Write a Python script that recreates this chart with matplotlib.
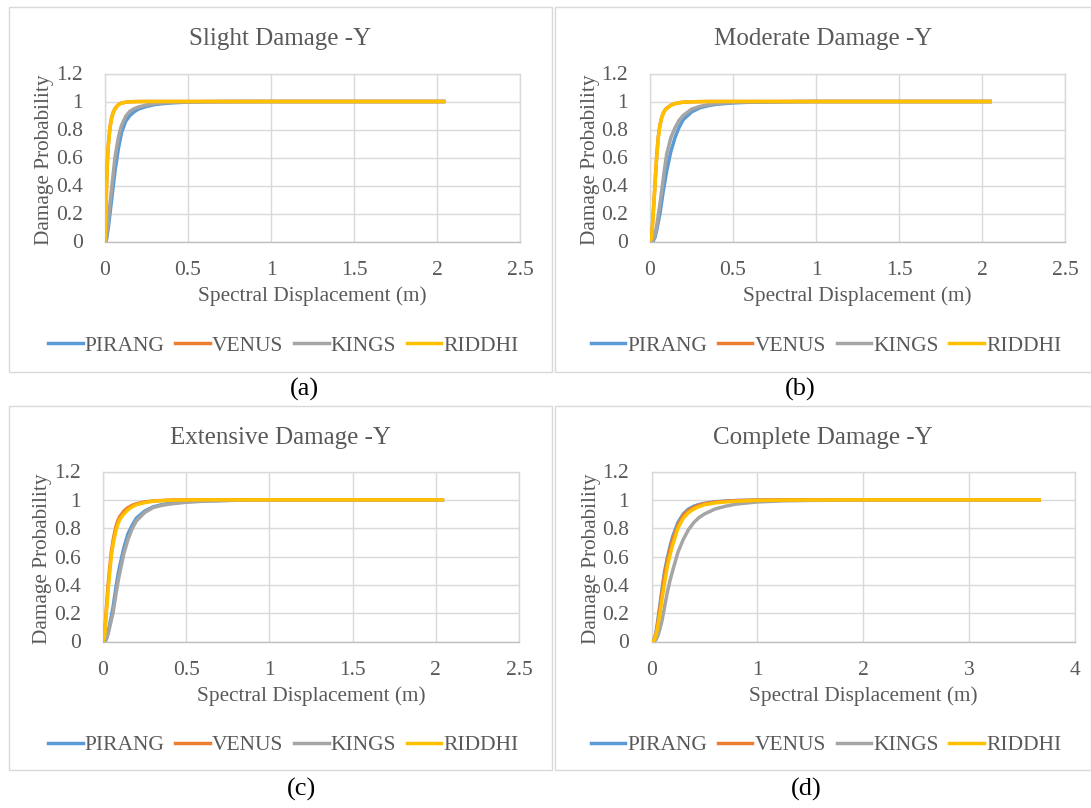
import matplotlib
matplotlib.use("Agg")
import matplotlib.pyplot as plt
from matplotlib.patches import Rectangle
from matplotlib.lines import Line2D

plt.rcParams['font.family'] = ['Liberation Serif', 'DejaVu Serif']

# ---------------- data ----------------
SERIES = ["PIRANG", "VENUS", "KINGS", "RIDDHI"]
COLORS = ["#5B9BD5", "#ED7D31", "#A5A5A5", "#FFC000"]

TITLES = ["Slight Damage -Y", "Moderate Damage -Y", "Extensive Damage -Y", "Complete Damage -Y"]
PANEL_TAGS = ["(a)", "(b)", "(c)", "(d)"]
X_LABEL = "Spectral Displacement (m)"
Y_LABEL = "Damage Probability"
Y_TICKS = [0, 0.2, 0.4, 0.6, 0.8, 1, 1.2]
Y_TICK_LABELS = ["0", "0.2", "0.4", "0.6", "0.8", "1", "1.2"]
X_TICKS_AC = [0, 0.5, 1, 1.5, 2, 2.5]
X_TICK_LABELS_AC = ["0", "0.5", "1", "1.5", "2", "2.5"]
X_TICKS_D = [0, 1, 2, 3, 4]
X_TICK_LABELS_D = ["0", "1", "2", "3", "4"]

# (a) Slight damage
x_slight = [0, 0.005, 0.01, 0.015, 0.02, 0.03, 0.04, 0.05, 0.06, 0.07, 0.08, 0.09, 0.1, 0.125,
            0.15, 0.175, 0.2, 0.25, 0.3, 0.35, 0.4, 0.5, 0.6, 0.75, 1.0, 1.5, 2.05]
pirang_slight = [0, 0, 0.02, 0.06, 0.10, 0.20, 0.30, 0.40, 0.50, 0.58, 0.66, 0.72, 0.78, 0.86,
                 0.90, 0.926, 0.945, 0.965, 0.978, 0.985, 0.99, 0.996, 0.998, 0.999, 1, 1, 1]
venus_slight = [0, 0.16, 0.43, 0.59, 0.69, 0.82, 0.885, 0.925, 0.948, 0.964, 0.976, 0.984, 0.989, 0.995,
                0.998, 0.999, 1, 1, 1, 1, 1, 1, 1, 1, 1, 1, 1]
kings_slight = [0, 0, 0.04, 0.10, 0.15, 0.27, 0.38, 0.49, 0.60, 0.67, 0.74, 0.79, 0.83, 0.895,
                0.93, 0.948, 0.96, 0.975, 0.985, 0.99, 0.994, 0.997, 0.999, 1, 1, 1, 1]
riddhi_slight = [0, 0.15, 0.42, 0.58, 0.68, 0.81, 0.88, 0.92, 0.945, 0.962, 0.975, 0.983, 0.988, 0.995,
                 0.998, 0.999, 0.999, 1, 1, 1, 1, 1, 1, 1, 1, 1, 1]

# (b) Moderate damage
x_moderate = [0, 0.01, 0.02, 0.03, 0.04, 0.05, 0.06, 0.07, 0.08, 0.09, 0.1, 0.125, 0.15, 0.175,
              0.2, 0.25, 0.3, 0.35, 0.4, 0.5, 0.6, 0.8, 1.0, 1.5, 2.06]
pirang_moderate = [0, 0, 0.005, 0.03, 0.08, 0.14, 0.20, 0.28, 0.36, 0.43, 0.50, 0.64, 0.74, 0.815,
                   0.87, 0.925, 0.955, 0.97, 0.98, 0.99, 0.995, 0.998, 1, 1, 1]
venus_moderate = [0, 0.035, 0.21, 0.41, 0.61, 0.75, 0.835, 0.885, 0.918, 0.938, 0.952, 0.973, 0.985, 0.991,
                  0.995, 0.998, 0.999, 1, 1, 1, 1, 1, 1, 1, 1]
kings_moderate = [0, 0, 0.01, 0.05, 0.11, 0.19, 0.27, 0.36, 0.45, 0.54, 0.62, 0.74, 0.81, 0.865,
                  0.90, 0.945, 0.965, 0.977, 0.985, 0.993, 0.997, 0.999, 1, 1, 1]
riddhi_moderate = [0, 0.03, 0.20, 0.40, 0.60, 0.74, 0.83, 0.88, 0.915, 0.936, 0.95, 0.972, 0.985, 0.991,
                   0.995, 0.998, 0.999, 1, 1, 1, 1, 1, 1, 1, 1]

# (c) Extensive damage
x_extensive = [0, 0.01, 0.02, 0.03, 0.04, 0.05, 0.06, 0.07, 0.08, 0.09, 0.1, 0.125, 0.15, 0.175,
               0.2, 0.25, 0.3, 0.35, 0.4, 0.5, 0.6, 0.8, 1.0, 1.5, 2.05]
pirang_extensive = [0, 0, 0.02, 0.06, 0.12, 0.18, 0.24, 0.32, 0.40, 0.47, 0.53, 0.66, 0.76, 0.82,
                    0.87, 0.92, 0.95, 0.965, 0.975, 0.987, 0.993, 0.998, 1, 1, 1]
venus_extensive = [0, 0.05, 0.23, 0.39, 0.52, 0.63, 0.71, 0.77, 0.82, 0.855, 0.88, 0.92, 0.945, 0.961,
                   0.972, 0.985, 0.992, 0.995, 0.998, 1, 1, 1, 1, 1, 1]
kings_extensive = [0, 0, 0.015, 0.05, 0.10, 0.15, 0.20, 0.275, 0.35, 0.42, 0.48, 0.62, 0.72, 0.795,
                   0.85, 0.91, 0.945, 0.96, 0.97, 0.983, 0.99, 0.997, 0.999, 1, 1]
riddhi_extensive = [0, 0.04, 0.20, 0.35, 0.48, 0.60, 0.68, 0.74, 0.79, 0.83, 0.86, 0.90, 0.93, 0.95,
                    0.965, 0.98, 0.99, 0.994, 0.997, 0.999, 1, 1, 1, 1, 1]

# (d) Complete damage
x_complete = [0, 0.02, 0.04, 0.06, 0.08, 0.1, 0.125, 0.15, 0.175, 0.2, 0.25, 0.3, 0.35, 0.4,
              0.45, 0.5, 0.6, 0.7, 0.8, 1.0, 1.25, 1.5, 2.0, 2.5, 3.0, 3.68]
pirang_complete = [0, 0.005, 0.05, 0.15, 0.26, 0.37, 0.50, 0.59, 0.67, 0.74, 0.84, 0.90, 0.935, 0.955,
                   0.967, 0.975, 0.986, 0.991, 0.995, 0.998, 0.999, 1, 1, 1, 1, 1]
venus_complete = [0, 0.004, 0.045, 0.13, 0.24, 0.35, 0.48, 0.57, 0.65, 0.72, 0.82, 0.89, 0.925, 0.948,
                  0.962, 0.972, 0.984, 0.99, 0.994, 0.998, 0.999, 1, 1, 1, 1, 1]
kings_complete = [0, 0.001, 0.01, 0.04, 0.09, 0.15, 0.25, 0.35, 0.43, 0.50, 0.63, 0.72, 0.79, 0.84,
                  0.875, 0.90, 0.935, 0.955, 0.97, 0.985, 0.993, 0.996, 0.999, 1, 1, 1]
riddhi_complete = [0, 0.003, 0.035, 0.11, 0.20, 0.30, 0.42, 0.53, 0.61, 0.68, 0.80, 0.87, 0.91, 0.935,
                   0.952, 0.965, 0.978, 0.985, 0.99, 0.996, 0.998, 0.999, 1, 1, 1, 1]

PANELS = [
    (x_slight, [pirang_slight, venus_slight, kings_slight, riddhi_slight], X_TICKS_AC, X_TICK_LABELS_AC),
    (x_moderate, [pirang_moderate, venus_moderate, kings_moderate, riddhi_moderate], X_TICKS_AC, X_TICK_LABELS_AC),
    (x_extensive, [pirang_extensive, venus_extensive, kings_extensive, riddhi_extensive], X_TICKS_AC, X_TICK_LABELS_AC),
    (x_complete, [pirang_complete, venus_complete, kings_complete, riddhi_complete], X_TICKS_D, X_TICK_LABELS_D),
]

# ---------------- layout (pixels) ----------------
W, H = 1091, 808
fig = plt.figure(figsize=(W / 100, H / 100), dpi=100)
fig.patch.set_facecolor("white")

def fx(px):
    return px / W

def fy(py):
    return 1 - py / H

# box: (left, top, right, bottom); plot area: (left, top, right, bottom)
BOXES = [(9, 7, 552, 372), (555, 7, 1091, 372), (9, 406, 552, 770), (555, 406, 1091, 770)]
PLOTS = [(105, 73.5, 520, 241.5), (650, 73.5, 1065, 241.5),
         (103, 471.5, 519, 641.5), (651.5, 471.5, 1074.7, 641.5)]
TAG_POS = [(304, 389), (800, 389), (302, 789), (806, 789)]

TXT = "#595959"
GRID = "#D9D9D9"
LW = 2.5

for i in range(4):
    bl, bt, br, bb = BOXES[i]
    fig.patches.append(Rectangle((fx(bl), fy(bb)), fx(br - bl), (bb - bt) / H,
                                 transform=fig.transFigure, fill=False,
                                 edgecolor=GRID, linewidth=1.0))
    pl, pt, pr, pb = PLOTS[i]
    ax = fig.add_axes([fx(pl), fy(pb), fx(pr - pl), (pb - pt) / H])
    xs, ys_list, xt, xtl = PANELS[i]
    for name, col, ys in zip(SERIES, COLORS, ys_list):
        ax.plot(xs, ys, color=col, linewidth=LW, solid_capstyle="butt",
                solid_joinstyle="round", label=name, zorder=3)
    ax.set_xlim(xt[0], xt[-1])
    ax.set_ylim(0, 1.2)
    ax.set_xticks(xt)
    ax.set_xticklabels(xtl)
    ax.set_yticks(Y_TICKS)
    ax.set_yticklabels(Y_TICK_LABELS)
    ax.grid(True, color=GRID, linewidth=1.0, zorder=0)
    ax.set_axisbelow(True)
    for s in ax.spines.values():
        s.set_color(GRID)
        s.set_linewidth(1.0)
    ax.spines["bottom"].set_color("#BFBFBF")
    ax.tick_params(length=0, labelsize=15.5, labelcolor=TXT)
    ax.tick_params(axis="x", pad=14)
    ax.tick_params(axis="y", pad=16)

    cx_box = (bl + br) / 2
    fig.text(fx(cx_box), fy(bt + 32), TITLES[i], ha="center", va="center", fontsize=18, color=TXT)
    fig.text(fx((pl + pr) / 2), fy(pb + 55), X_LABEL, ha="center", va="center", fontsize=15.3, color=TXT)
    fig.text(fx(pl - 60), fy((pt + pb) / 2 + 2), Y_LABEL, ha="center", va="center",
             rotation=90, fontsize=15.3, color=TXT)

    handles = [Line2D([], [], color=c, linewidth=LW) for c in COLORS]
    fig.legend(handles, SERIES, loc="center", bbox_to_anchor=(fx(cx_box + 3), fy(bt + 339)),
               ncol=4, frameon=False, fontsize=15.5, labelcolor=TXT,
               handlelength=1.6, handletextpad=0.1, columnspacing=0.5)

    tx, ty = TAG_POS[i]
    fig.text(fx(tx), fy(ty), PANEL_TAGS[i], ha="center", va="center", fontsize=19, color="black")

fig.savefig("out.png", dpi=100, facecolor="white")
